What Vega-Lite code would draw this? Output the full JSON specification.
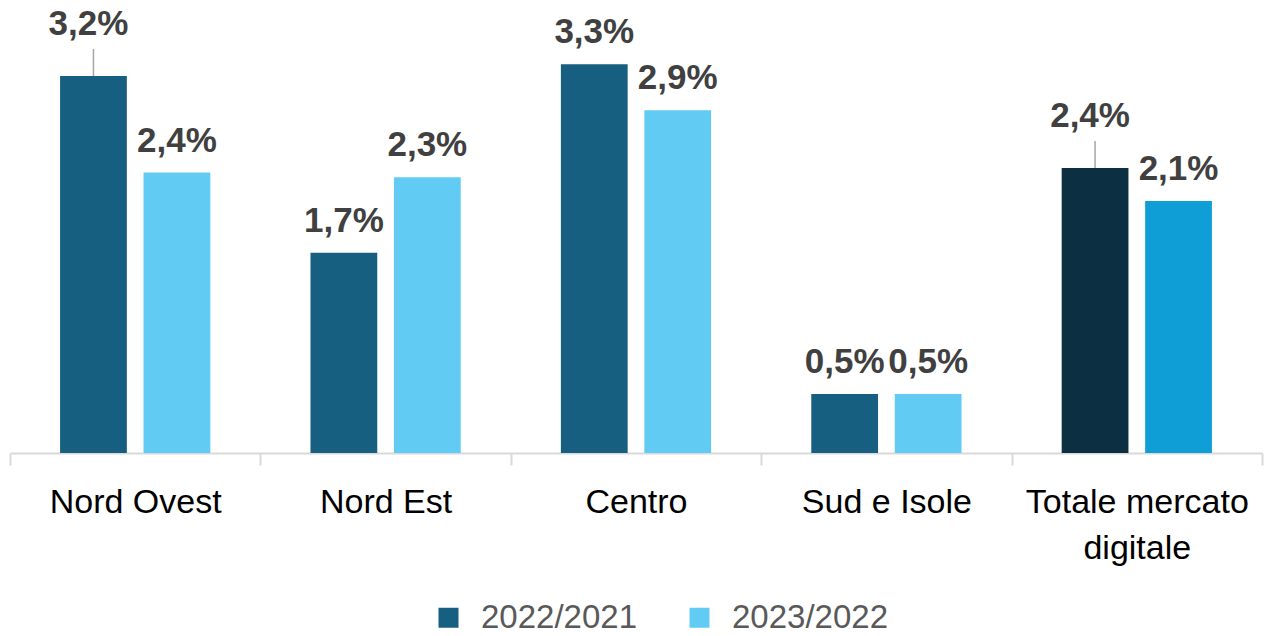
{
  "$schema": "https://vega.github.io/schema/vega-lite/v6.json",
  "width": 1252,
  "height": 453,
  "autosize": {"type": "none"},
  "padding": {"left": 10, "top": 0, "right": 9, "bottom": 183},
  "background": "white",
  "data": {
    "values": [
      {"area": "Nord Ovest", "serie": "2022/2021", "v": 3.2},
      {"area": "Nord Ovest", "serie": "2023/2022", "v": 2.38},
      {"area": "Nord Est", "serie": "2022/2021", "v": 1.7},
      {"area": "Nord Est", "serie": "2023/2022", "v": 2.34},
      {"area": "Centro", "serie": "2022/2021", "v": 3.3},
      {"area": "Centro", "serie": "2023/2022", "v": 2.91},
      {"area": "Sud e Isole", "serie": "2022/2021", "v": 0.5},
      {"area": "Sud e Isole", "serie": "2023/2022", "v": 0.5},
      {"area": "Totale mercato digitale", "serie": "2022/2021", "v": 2.42},
      {"area": "Totale mercato digitale", "serie": "2023/2022", "v": 2.14}
    ]
  },
  "transform": [
    {"calculate": "replace(format(datum.v, '.1f'), '.', ',') + '%'", "as": "etichetta"}
  ],
  "encoding": {
    "x": {
      "field": "area",
      "type": "nominal",
      "sort": null,
      "scale": {"paddingInner": 0, "paddingOuter": 0},
      "axis": {
        "title": null,
        "labelAngle": 0,
        "labelFont": "Liberation Sans",
        "labelFontSize": 34,
        "labelColor": "#000000",
        "labelPadding": 20,
        "labelLineHeight": 46,
        "labelBaseline": "top",
        "labelLimit": 0,
        "labelExpr": "datum.label == 'Totale mercato digitale' ? ['Totale mercato', 'digitale'] : datum.label",
        "domainColor": "#d9d9d9",
        "domainWidth": 2,
        "tickColor": "#d9d9d9",
        "tickWidth": 2,
        "tickSize": 12,
        "tickBand": "extent"
      }
    },
    "xOffset": {
      "field": "serie",
      "type": "nominal",
      "scale": {"paddingInner": 0.2, "paddingOuter": 0.6}
    },
    "y": {
      "field": "v",
      "type": "quantitative",
      "scale": {"domain": [0, 3.845], "nice": false},
      "axis": null
    }
  },
  "layer": [
    {
      "mark": {"type": "bar"},
      "encoding": {
        "color": {
          "condition": [
            {"test": "datum.area == 'Totale mercato digitale' && datum.serie == '2022/2021'", "value": "#0c2f42"},
            {"test": "datum.area == 'Totale mercato digitale' && datum.serie == '2023/2022'", "value": "#0f9ed6"}
          ],
          "field": "serie",
          "type": "nominal",
          "scale": {"domain": ["2022/2021", "2023/2022"], "range": ["#165f80", "#62cbf3"]},
          "legend": {
            "title": null,
            "orient": "none",
            "legendX": 422,
            "legendY": 601,
            "direction": "horizontal",
            "symbolType": "square",
            "symbolSize": 400,
            "symbolStrokeWidth": 0,
            "labelFont": "Liberation Sans",
            "labelFontSize": 33,
            "labelColor": "#595959",
            "labelOffset": 16,
            "labelLimit": 0,
            "columnPadding": 46
          }
        }
      }
    },
    {
      "transform": [
        {"filter": "!((datum.area == 'Nord Ovest' || datum.area == 'Totale mercato digitale') && datum.serie == '2022/2021')"}
      ],
      "mark": {
        "type": "text",
        "font": "Liberation Sans",
        "fontSize": 35,
        "fontWeight": "bold",
        "color": "#404040",
        "baseline": "alphabetic",
        "dy": -21
      },
      "encoding": {"text": {"field": "etichetta"}}
    },
    {
      "transform": [
        {"filter": "(datum.area == 'Nord Ovest' || datum.area == 'Totale mercato digitale') && datum.serie == '2022/2021'"}
      ],
      "mark": {
        "type": "text",
        "font": "Liberation Sans",
        "fontSize": 35,
        "fontWeight": "bold",
        "color": "#404040",
        "baseline": "alphabetic",
        "dy": -41,
        "dx": -5
      },
      "encoding": {"text": {"field": "etichetta"}}
    },
    {
      "transform": [
        {"filter": "(datum.area == 'Nord Ovest' || datum.area == 'Totale mercato digitale') && datum.serie == '2022/2021'"}
      ],
      "mark": {
        "type": "rule",
        "color": "#a6a6a6",
        "strokeWidth": 1.5,
        "y2Offset": -27
      },
      "encoding": {
        "y2": {"field": "v"}
      }
    }
  ],
  "config": {"view": {"stroke": null}}
}
